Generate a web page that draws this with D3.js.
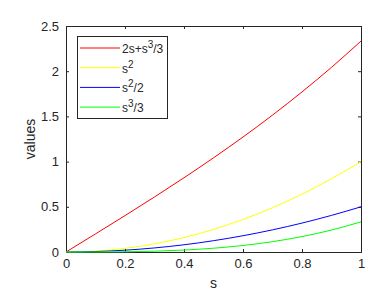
<!DOCTYPE html>
<html>
<head>
<meta charset="utf-8">
<script src="https://cdn.jsdelivr.net/npm/d3@7"></script>
<style>
  body { margin: 0; background: #fff; }
  svg { font-family: "Liberation Sans", Arial, sans-serif; }
</style>
</head>
<body>
<div id="chart"></div>
<script>
// values at s = 0, 0.1, ..., 1
const sValues = [0, 0.1, 0.2, 0.3, 0.4, 0.5, 0.6, 0.7, 0.8, 0.9, 1]
const redValues = [0, 0.2003, 0.4027, 0.609, 0.8213, 1.0417, 1.272, 1.5143, 1.7707, 2.043, 2.3333]
const yellowValues = [0, 0.01, 0.04, 0.09, 0.16, 0.25, 0.36, 0.49, 0.64, 0.81, 1]
const blueValues = [0, 0.005, 0.02, 0.045, 0.08, 0.125, 0.18, 0.245, 0.32, 0.405, 0.5]
const greenValues = [0, 0.0003, 0.0027, 0.009, 0.0213, 0.0417, 0.072, 0.1143, 0.1707, 0.243, 0.3333]
const xTicks = [0, 0.2, 0.4, 0.6, 0.8, 1]
const yTicks = [0, 0.5, 1, 1.5, 2, 2.5]

const series = [
    {name: [['2s+s', 0], ['3', 1], ['/3', 0]], values: redValues, color: '#ff0000'},
    {name: [['s', 0], ['2', 1]], values: yellowValues, color: '#ffff00'},
    {name: [['s', 0], ['2', 1], ['/2', 0]], values: blueValues, color: '#0000ff'},
    {name: [['s', 0], ['3', 1], ['/3', 0]], values: greenValues, color: '#00ff00'}
]

const width = 389
const height = 296
const margin = {top: 26, right: 28, bottom: 44, left: 66}
const axisColor = '#262626'

const svg = d3.select('#chart').append('svg')
    .attr('width', width)
    .attr('height', height)

const x = d3.scaleLinear().domain([0, 1]).range([margin.left, width - margin.right])
const y = d3.scaleLinear().domain([0, 2.5]).range([height - margin.bottom, margin.top])

// box with inward ticks
const tickFmt = d => d3.format('~g')(d)
svg.append('g')
    .attr('transform', 'translate(0,' + y(0) + ')')
    .call(d3.axisBottom(x).tickValues(xTicks).tickSize(-3).tickPadding(7).tickFormat(tickFmt))
svg.append('g')
    .attr('transform', 'translate(0,' + y(2.5) + ')')
    .call(d3.axisTop(x).tickValues(xTicks).tickSize(-3).tickFormat(''))
svg.append('g')
    .attr('transform', 'translate(' + x(0) + ',0)')
    .call(d3.axisLeft(y).tickValues(yTicks).tickSize(-3).tickPadding(7).tickFormat(tickFmt))
svg.append('g')
    .attr('transform', 'translate(' + x(1) + ',0)')
    .call(d3.axisRight(y).tickValues(yTicks).tickSize(-3).tickFormat(''))

svg.selectAll('.domain, .tick line').attr('stroke', axisColor)
svg.selectAll('.tick text').attr('fill', axisColor).style('font-size', '13px')
    .style('font-family', '"Liberation Sans", Arial, sans-serif')

// curves
const line = d3.line()
    .x((d, i) => x(sValues[i]))
    .y(d => y(d))
    .curve(d3.curveMonotoneX)

svg.selectAll('.curve')
    .data(series)
    .enter()
    .append('path')
    .attr('class', 'curve')
    .attr('d', d => line(d.values))
    .attr('fill', 'none')
    .attr('stroke', d => d.color)
    .attr('stroke-width', 1)

// axis labels
svg.append('text')
    .attr('x', (x(0) + x(1)) / 2)
    .attr('y', 288)
    .attr('text-anchor', 'middle')
    .attr('fill', axisColor)
    .style('font-size', '14px')
    .text('s')

svg.append('text')
    .attr('transform', 'translate(35,' + (y(0) + y(2.5)) / 2 + ') rotate(-90)')
    .attr('text-anchor', 'middle')
    .attr('fill', axisColor)
    .style('font-size', '14px')
    .text('values')

// legend
const legend = svg.append('g')
legend.append('rect')
    .attr('x', 77.5)
    .attr('y', 36.5)
    .attr('width', 90)
    .attr('height', 82)
    .attr('fill', '#fff')
    .attr('stroke', axisColor)

const entry = legend.selectAll('.entry')
    .data(series)
    .enter()
    .append('g')
    .attr('class', 'entry')
    .attr('transform', (d, i) => 'translate(0,' + (48 + i * 19.7) + ')')

entry.append('line')
    .attr('x1', 80).attr('x2', 120)
    .attr('stroke', d => d.color)

const label = entry.append('text')
    .attr('x', 122)
    .attr('y', 5)
    .attr('fill', axisColor)
    .style('font-size', '12px')
label.selectAll('tspan')
    .data(d => d.name)
    .enter()
    .append('tspan')
    .attr('dy', (d, i, nodes) => {
        const prev = i > 0 ? d3.select(nodes[i - 1]).datum()[1] : 0
        return (prev - d[1]) * 5
    })
    .style('font-size', d => d[1] ? '10px' : '12px')
    .text(d => d[0])
</script>
</body>
</html>
